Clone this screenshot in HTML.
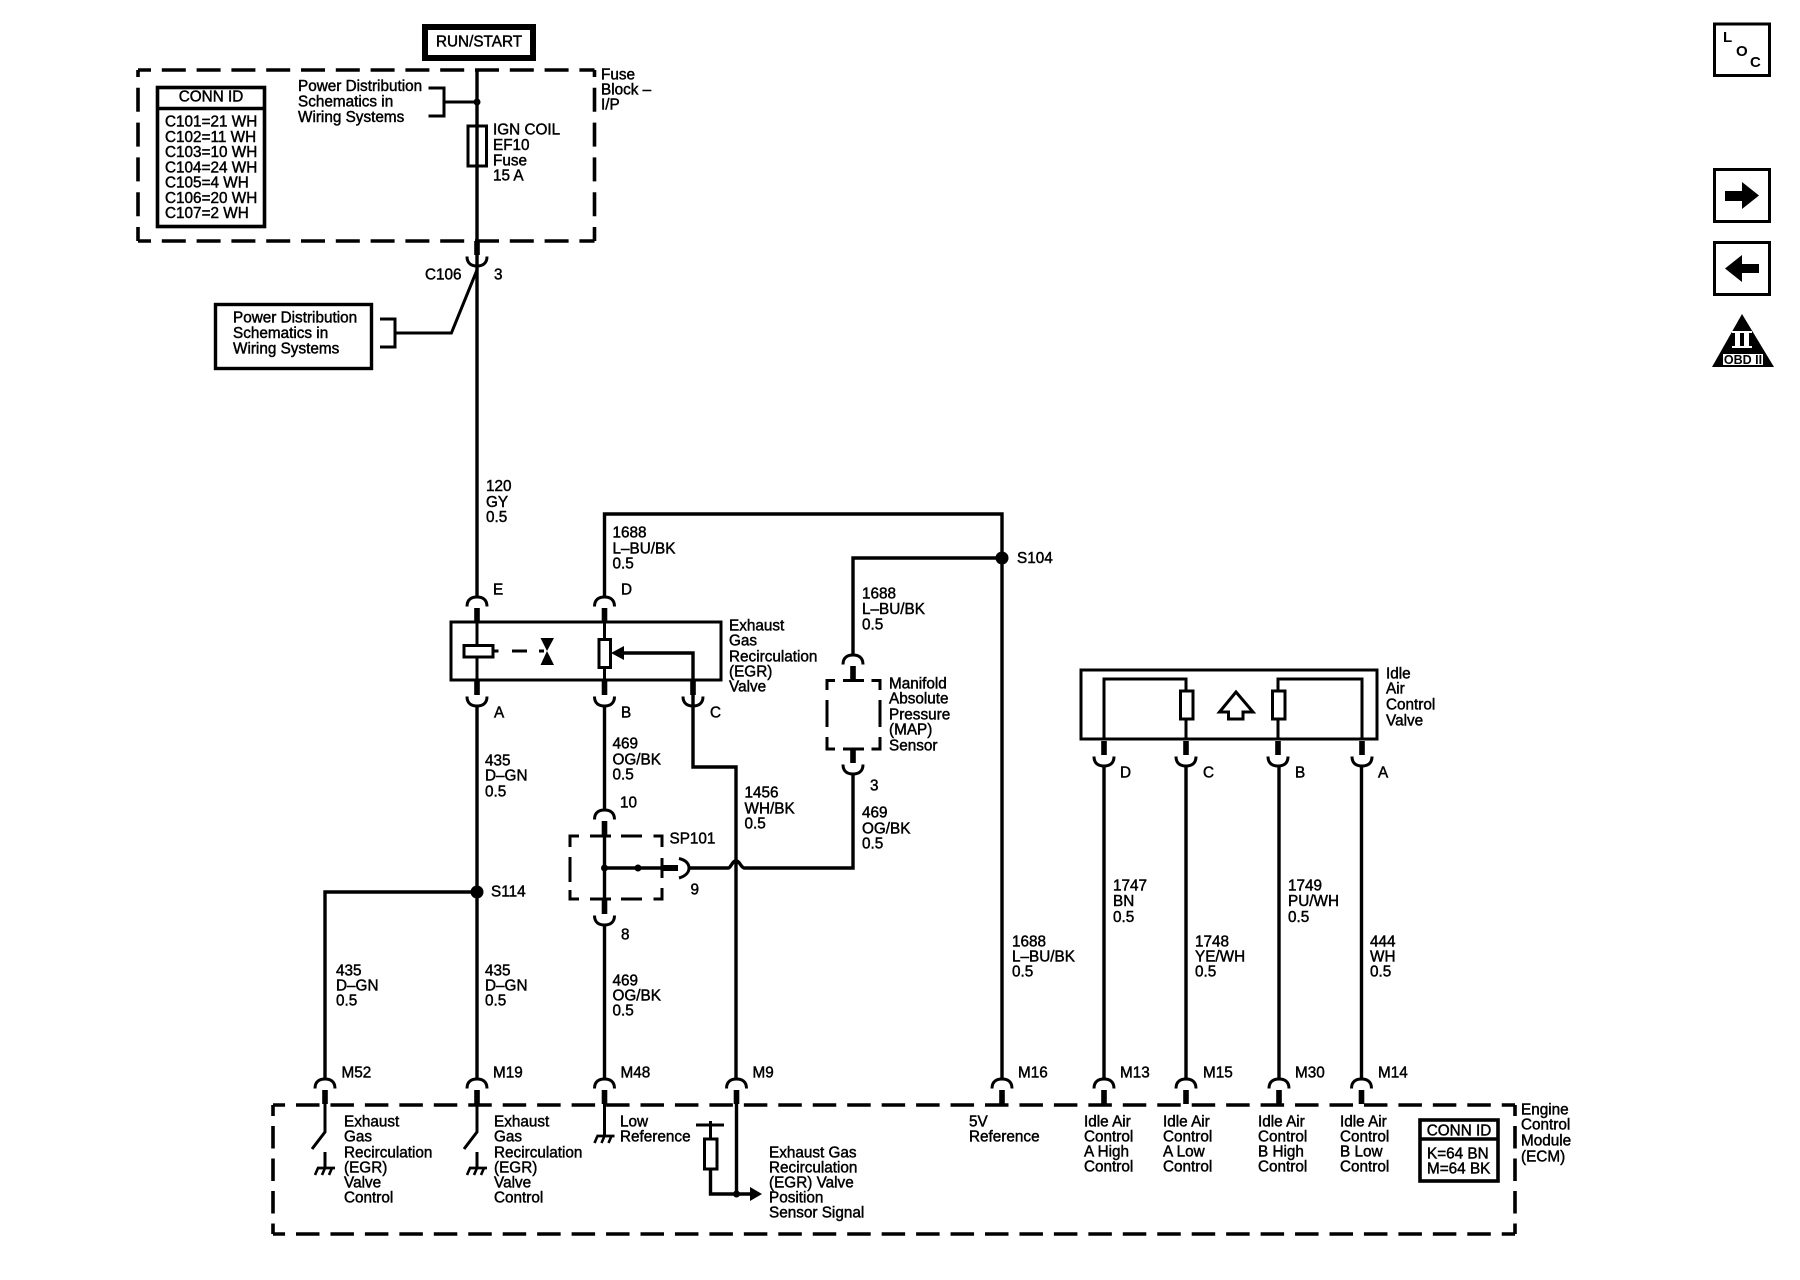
<!DOCTYPE html>
<html><head><meta charset="utf-8"><title>Wiring diagram</title>
<style>
html,body{margin:0;padding:0;background:#fff}
svg{display:block}
text{font-family:"Liberation Sans",sans-serif;font-size:15.3px;fill:#000;stroke:#000;stroke-width:.45;transform:translateY(-1px)}
.w{fill:none;stroke:#000;stroke-width:3.4}
.t{fill:none;stroke:#000;stroke-width:3}
.d{fill:none;stroke:#000;stroke-width:3.6;stroke-dasharray:24 10.8}
.e{fill:none;stroke:#000;stroke-width:3.6;stroke-dasharray:23.5 10.95}
.v{fill:none;stroke:#000;stroke-width:3.6;stroke-dasharray:22.5 10}
.n{fill:none;stroke:#000;stroke-width:3.4}
</style></head><body>
<svg width="1800" height="1280" viewBox="0 0 1800 1280" xmlns="http://www.w3.org/2000/svg">
<defs>
<g id="up"><path class="t" d="M-10,10.5C-10,3 -5,1 0,1C5,1 10,3 10,10.5"/><rect x="-2.8" y="12" width="5.6" height="14" fill="#000"/></g>
<g id="dn"><path class="t" d="M-10,-10.5C-10,-3 -5,-1 0,-1C5,-1 10,-3 10,-10.5"/><rect x="-2.8" y="-26" width="5.6" height="14" fill="#000"/></g>
<g id="gnd"><path d="M-8,0H10" stroke="#000" stroke-width="2.8"/><path d="M-7,0L-10,7M0,0L-3,7M7,0L4,7" stroke="#000" stroke-width="2.6"/></g>
</defs>
<rect width="1800" height="1280" fill="#fff"/>

<!-- RUN/START -->
<rect x="425" y="27" width="108" height="31" fill="#fff" stroke="#000" stroke-width="6"/>
<text x="479" y="47.500" text-anchor="middle">RUN/START</text>

<!-- Fuse block dashed -->
<path class="d" stroke-dashoffset="11" d="M138,70H594.500"/>
<path class="d" stroke-dashoffset="11" d="M138,241H594.500"/>
<path class="d" stroke-dashoffset="17" d="M138,70V241"/>
<path class="d" stroke-dashoffset="17" d="M594.500,70V241"/>

<!-- CONN ID top -->
<rect x="157.500" y="87.500" width="107" height="139" fill="#fff" stroke="#000" stroke-width="3.6"/>
<path class="n" d="M157,108.500H265"/>
<text x="211" y="102.500" text-anchor="middle">CONN ID</text>
<text x="165" y="127.500">C101=21 WH</text>
<text x="165" y="142.800">C102=11 WH</text>
<text x="165" y="158">C103=10 WH</text>
<text x="165" y="173.300">C104=24 WH</text>
<text x="165" y="188.600">C105=4 WH</text>
<text x="165" y="203.900">C106=20 WH</text>
<text x="165" y="219">C107=2 WH</text>

<text x="298" y="92">Power Distribution</text>
<text x="298" y="107.500">Schematics in</text>
<text x="298" y="123">Wiring Systems</text>
<path class="t" d="M428.500,88H444V116H428.500M444,102H477"/>
<circle cx="477" cy="102" r="3.500"/>

<path class="w" d="M477,70V596"/>
<rect x="468" y="126" width="18.500" height="40" fill="none" stroke="#000" stroke-width="3"/>
<text x="493" y="135.500">IGN COIL</text>
<text x="493" y="151">EF10</text>
<text x="493" y="166.500">Fuse</text>
<text x="493" y="181.500">15 A</text>

<text x="601" y="80.500">Fuse</text>
<text x="601" y="95.500">Block –</text>
<text x="601" y="110.500">I/P</text>

<use href="#dn" x="477" y="267"/>
<text x="425" y="280.500">C106</text>
<text x="494" y="280.500">3</text>
<path class="t" d="M477,270L451.400,333H395M380,319H395V347H380"/>
<rect x="215.500" y="304.500" width="156" height="64" fill="#fff" stroke="#000" stroke-width="3.4"/>
<text x="233" y="323.500">Power Distribution</text>
<text x="233" y="339">Schematics in</text>
<text x="233" y="354.500">Wiring Systems</text>

<text x="486" y="492">120</text>
<text x="486" y="508">GY</text>
<text x="486" y="523">0.5</text>

<!-- EGR valve -->
<rect x="451" y="622" width="270" height="58" fill="#fff" stroke="#000" stroke-width="3"/>
<path class="t" d="M477,622V680M604.500,622V680"/>
<rect x="464" y="645.500" width="29" height="11.500" fill="#fff" stroke="#000" stroke-width="3"/>
<path class="t" d="M493,651H498.500M512,651H527M539,651H544"/>
<path d="M540.500,638H554L547,651L554,665H540.500L547,651Z" fill="#000"/>
<rect x="599" y="639.500" width="11.500" height="28" fill="#fff" stroke="#000" stroke-width="3"/>
<path d="M611,653L624,646V660Z" fill="#000"/>
<path class="w" d="M622,653H693V767H736V1078"/>
<use href="#up" x="477" y="596"/>
<use href="#up" x="604.500" y="596"/>
<use href="#dn" x="477" y="707"/>
<use href="#dn" x="604.500" y="707"/>
<use href="#dn" x="693" y="707"/>
<text x="493" y="595.500">E</text>
<text x="621" y="595.500">D</text>
<text x="494" y="718.500">A</text>
<text x="621" y="718.500">B</text>
<text x="710" y="718.500">C</text>
<text x="729" y="631.500">Exhaust</text>
<text x="729" y="646.500">Gas</text>
<text x="729" y="662.500">Recirculation</text>
<text x="729" y="677.500">(EGR)</text>
<text x="729" y="692.500">Valve</text>

<!-- 1688 loop -->
<path class="w" d="M604.500,596V514H1002V1078"/>
<circle cx="1002" cy="558" r="6.500"/>
<path class="w" d="M1002,558H853V654"/>
<text x="612.500" y="538.500">1688</text>
<text x="612.500" y="554.500">L–BU/BK</text>
<text x="612.500" y="569.500">0.5</text>
<text x="1017" y="564">S104</text>
<text x="862" y="599.500">1688</text>
<text x="862" y="615">L–BU/BK</text>
<text x="862" y="630.500">0.5</text>

<!-- MAP -->
<use href="#up" x="853" y="654"/>
<use href="#dn" x="853" y="775"/>
<path class="t" d="M835,680.500H827V690M871.500,680.500H880V690M843,680.500H864M843,749H864M827,700V727M880,700V727M827,737V749H835M880,737V749H871.500"/>
<text x="889" y="689.500">Manifold</text>
<text x="889" y="704.500">Absolute</text>
<text x="889" y="720.500">Pressure</text>
<text x="889" y="735.500">(MAP)</text>
<text x="889" y="751.500">Sensor</text>
<text x="870" y="791.500">3</text>
<text x="862" y="818.500">469</text>
<text x="862" y="834.500">OG/BK</text>
<text x="862" y="849.500">0.5</text>
<path class="w" d="M853,775V868H744.500C741,868 740,861 736,861C732,861 731,868 728,868H690"/>

<!-- 469 run -->
<path class="w" d="M604.500,707V809"/>
<use href="#up" x="604.500" y="809"/>
<path class="w" d="M604.500,835V900"/>
<path class="w" d="M604.500,868H663"/>
<circle cx="604.500" cy="868" r="3.500"/>
<circle cx="638" cy="868" r="3.500"/>
<rect x="663" y="865" width="15" height="6" fill="#000"/>
<path class="t" d="M679,858.500C686,860 689,864 689,868C689,872 686,876 679,878"/>
<path class="t" d="M579,836H570V847M570,857V882M570,890V899H579M590,836H611M621,836H642M653.500,836H662V847M662,858V878M662,888V899H653.500M590,899H611M621,899H642"/>
<use href="#dn" x="604.500" y="926"/>
<path class="w" d="M604.500,926V1078"/>
<text x="612.500" y="749.500">469</text>
<text x="612.500" y="765.500">OG/BK</text>
<text x="612.500" y="780.500">0.5</text>
<text x="620" y="808.500">10</text>
<text x="669.500" y="844.500">SP101</text>
<text x="690.500" y="895.500">9</text>
<text x="621" y="940.500">8</text>
<text x="612.500" y="986.500">469</text>
<text x="612.500" y="1001.500">OG/BK</text>
<text x="612.500" y="1016.500">0.5</text>
<text x="744.500" y="798.500">1456</text>
<text x="744.500" y="814.500">WH/BK</text>
<text x="744.500" y="829.500">0.5</text>

<!-- 435 run -->
<path class="w" d="M477,707V1078M477,892H325V1078"/>
<circle cx="477" cy="892" r="6.500"/>
<text x="491" y="897.500">S114</text>
<text x="485" y="766.500">435</text>
<text x="485" y="781.500">D–GN</text>
<text x="485" y="797.500">0.5</text>
<text x="336" y="976.500">435</text>
<text x="336" y="991.500">D–GN</text>
<text x="336" y="1006.500">0.5</text>
<text x="485" y="976.500">435</text>
<text x="485" y="991.500">D–GN</text>
<text x="485" y="1006.500">0.5</text>
<text x="1012" y="947.500">1688</text>
<text x="1012" y="962.500">L–BU/BK</text>
<text x="1012" y="977.500">0.5</text>

<!-- IAC -->
<rect x="1081" y="670" width="296" height="69" fill="#fff" stroke="#000" stroke-width="3"/>
<path class="t" d="M1104,739V679H1186V739M1278,739V679H1362V739"/>
<rect x="1180.500" y="691" width="12.500" height="28" fill="#fff" stroke="#000" stroke-width="3"/>
<rect x="1272.500" y="691" width="12.500" height="28" fill="#fff" stroke="#000" stroke-width="3"/>
<path class="t" d="M1236,692L1219.500,712H1228.500V719H1243V712H1253Z"/>
<use href="#dn" x="1104" y="767"/><use href="#dn" x="1186" y="767"/><use href="#dn" x="1278" y="767"/><use href="#dn" x="1362" y="767"/>
<path class="w" d="M1104,767V1078M1186,767V1078M1279,767V1078M1361.500,767V1078"/>
<text x="1386" y="679.500">Idle</text>
<text x="1386" y="694.500">Air</text>
<text x="1386" y="710.500">Control</text>
<text x="1386" y="726.500">Valve</text>
<text x="1120" y="778.500">D</text>
<text x="1203" y="778.500">C</text>
<text x="1295" y="778.500">B</text>
<text x="1378" y="778.500">A</text>
<text x="1113" y="891.500">1747</text>
<text x="1113" y="907">BN</text>
<text x="1113" y="923">0.5</text>
<text x="1288" y="891.500">1749</text>
<text x="1288" y="907">PU/WH</text>
<text x="1288" y="923">0.5</text>
<text x="1195" y="947.500">1748</text>
<text x="1195" y="962.500">YE/WH</text>
<text x="1195" y="977.500">0.5</text>
<text x="1370" y="947.500">444</text>
<text x="1370" y="962.500">WH</text>
<text x="1370" y="977.500">0.5</text>

<!-- ECM -->
<path class="e" stroke-dashoffset="11.450" d="M273,1105H1515"/>
<path class="e" stroke-dashoffset="11.450" d="M273,1234H1515"/>
<path class="v" stroke-dashoffset="11.500" d="M273,1105V1234"/>
<path class="v" stroke-dashoffset="11.500" d="M1515,1105V1234"/>
<use href="#up" x="325" y="1078"/><use href="#up" x="477" y="1078"/><use href="#up" x="604.500" y="1078"/><use href="#up" x="736.500" y="1078"/>
<use href="#up" x="1002" y="1078"/><use href="#up" x="1104" y="1078"/><use href="#up" x="1186" y="1078"/><use href="#up" x="1279" y="1078"/><use href="#up" x="1361.500" y="1078"/>
<text x="341.500" y="1078.500">M52</text>
<text x="493" y="1078.500">M19</text>
<text x="620.500" y="1078.500">M48</text>
<text x="752.500" y="1078.500">M9</text>
<text x="1018" y="1078.500">M16</text>
<text x="1120" y="1078.500">M13</text>
<text x="1203" y="1078.500">M15</text>
<text x="1295" y="1078.500">M30</text>
<text x="1378" y="1078.500">M14</text>

<path class="t" d="M325,1104V1132L312,1149M325,1152V1167"/>
<use href="#gnd" x="325" y="1168"/>
<path class="t" d="M477,1104V1132L464,1149M477,1152V1167"/>
<use href="#gnd" x="477" y="1168"/>
<path class="t" d="M604.500,1104V1135"/>
<use href="#gnd" x="604.500" y="1136"/>
<text x="344" y="1127.500">Exhaust</text>
<text x="344" y="1142.500">Gas</text>
<text x="344" y="1158.500">Recirculation</text>
<text x="344" y="1173.500">(EGR)</text>
<text x="344" y="1188.500">Valve</text>
<text x="344" y="1203.500">Control</text>
<text x="494" y="1127.500">Exhaust</text>
<text x="494" y="1142.500">Gas</text>
<text x="494" y="1158.500">Recirculation</text>
<text x="494" y="1173.500">(EGR)</text>
<text x="494" y="1188.500">Valve</text>
<text x="494" y="1203.500">Control</text>
<text x="620" y="1127.500">Low</text>
<text x="620" y="1142.500">Reference</text>

<path class="t" d="M696,1125H724M710.500,1121V1139"/>
<rect x="704.500" y="1139" width="12.500" height="30" fill="#fff" stroke="#000" stroke-width="3"/>
<path class="w" d="M710.500,1169V1194H752M736.500,1104V1194"/>
<circle cx="736.500" cy="1194" r="3.500"/>
<path d="M762,1194L750,1187V1201Z" fill="#000"/>
<text x="769" y="1158.500">Exhaust Gas</text>
<text x="769" y="1173.500">Recirculation</text>
<text x="769" y="1188.500">(EGR) Valve</text>
<text x="769" y="1203.500">Position</text>
<text x="769" y="1218.500">Sensor Signal</text>

<text x="969" y="1127.500">5V</text>
<text x="969" y="1142.500">Reference</text>
<text x="1084" y="1127.500">Idle Air</text><text x="1084" y="1142.500">Control</text><text x="1084" y="1157.500">A High</text><text x="1084" y="1172.500">Control</text>
<text x="1163" y="1127.500">Idle Air</text><text x="1163" y="1142.500">Control</text><text x="1163" y="1157.500">A Low</text><text x="1163" y="1172.500">Control</text>
<text x="1258" y="1127.500">Idle Air</text><text x="1258" y="1142.500">Control</text><text x="1258" y="1157.500">B High</text><text x="1258" y="1172.500">Control</text>
<text x="1340" y="1127.500">Idle Air</text><text x="1340" y="1142.500">Control</text><text x="1340" y="1157.500">B Low</text><text x="1340" y="1172.500">Control</text>

<rect x="1420" y="1120" width="78" height="61" fill="#fff" stroke="#000" stroke-width="3.6"/>
<path class="n" d="M1420,1139H1498"/>
<text x="1459" y="1136.500" text-anchor="middle">CONN ID</text>
<text x="1427" y="1159.500">K=64 BN</text>
<text x="1427" y="1174.500">M=64 BK</text>
<text x="1521" y="1115.500">Engine</text>
<text x="1521" y="1130.500">Control</text>
<text x="1521" y="1146.500">Module</text>
<text x="1521" y="1162.500">(ECM)</text>

<!-- Right icons -->
<rect x="1714.500" y="24" width="55" height="51.500" fill="#fff" stroke="#000" stroke-width="3"/>
<text x="1723" y="43" style="font-size:15px;font-weight:bold;stroke-width:0">L</text>
<text x="1736" y="57" style="font-size:15px;font-weight:bold;stroke-width:0">O</text>
<text x="1750" y="68" style="font-size:15px;font-weight:bold;stroke-width:0">C</text>
<rect x="1714.500" y="169.500" width="55" height="52" fill="#fff" stroke="#000" stroke-width="3"/>
<path d="M1725,191H1742V182L1759,195.500L1742,209V201H1725Z" fill="#000"/>
<rect x="1714.500" y="242.500" width="55" height="52" fill="#fff" stroke="#000" stroke-width="3"/>
<path d="M1759,264H1742V255L1725,268.500L1742,282V273H1759Z" fill="#000"/>
<path d="M1742,314L1774,367H1712Z" fill="#000"/>
<rect x="1723" y="354" width="40" height="11" fill="#fff"/>
<rect x="1735" y="333" width="5" height="13" fill="#fff"/>
<rect x="1744" y="333" width="5" height="13" fill="#fff"/>
<rect x="1732" y="331" width="20" height="2" fill="#fff"/>
<rect x="1732" y="346" width="20" height="2" fill="#fff"/>
<text x="1743" y="365" text-anchor="middle" style="font-size:12.500px;font-weight:bold;stroke-width:0">OBD II</text>
</svg>
</body></html>
